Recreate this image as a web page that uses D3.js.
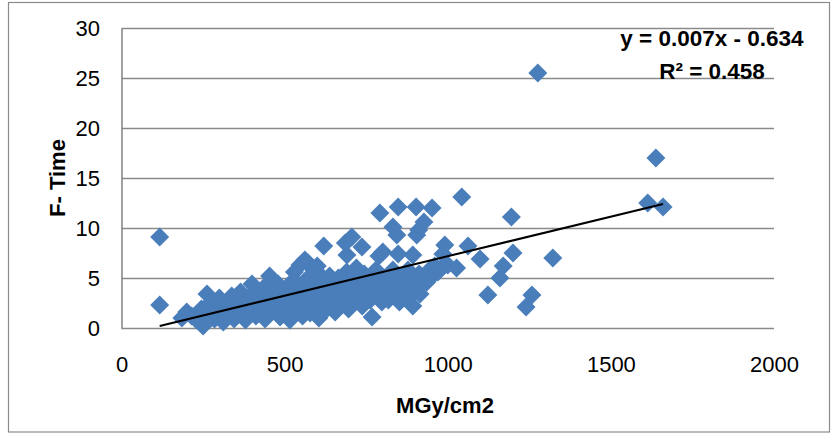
<!DOCTYPE html>
<html><head><meta charset="utf-8">
<script src="https://cdn.jsdelivr.net/npm/d3@7"></script>
<style>body{margin:0;background:#fff} svg{display:block}</style>
</head><body><svg id="c" width="838" height="434"></svg>
<script>
// ---- data ----
const xValues = [
  // band A
  185,200,215,230,245,250,262,268,275,285,292,300,305,312,320,330,338,345,350,358,365,372,380,388,395,400,405,
  // band B
  412,420,428,435,440,448,454,460,466,472,480,486,492,498,505,510,516,522,528,534,540,547,550,555,560,562,566,572,578,584,590,596,600,605,610,616,620,626,632,638,644,648,572,600,620,590,530,
  // band C
  655,660,665,672,678,684,690,696,702,708,714,720,726,732,738,744,750,756,762,768,774,780,786,792,798,
  // band D
  805,812,818,825,832,838,845,852,858,865,872,878,885,893,898,905,912,920,928,936,944,952,960,970,980,915,
  // upper / isolated
  117,117,1276,1638,1613,1660,1322,1043,1195,792,848,903,952,927,832,844,905,911,706,686,737,691,789,801,848,893,991,985,1062,1099,1200,1170,1160,1000,1027,1123,1258,1240
];
const yValues = [
  1.0,1.6,1.2,0.8,1.9,0.2,3.4,1.4,2.6,0.9,2.0,3.0,1.4,0.6,2.4,1.8,3.2,0.9,2.7,1.5,3.6,2.2,0.8,3.0,1.8,4.4,2.6,
  1.2,3.4,2.0,4.0,0.9,2.8,5.2,1.6,3.6,2.3,4.4,1.1,3.0,1.9,4.0,2.6,0.8,3.4,4.8,1.6,2.9,6.3,4.2,1.2,3.6,6.8,2.4,5.0,1.5,3.0,4.4,2.0,5.6,1.0,3.6,2.6,4.8,1.8,3.2,5.2,2.4,4.0,6.5,6.2,8.2,5.8,5.6,
  1.6,3.4,5.0,2.4,4.2,3.0,5.6,1.9,3.8,4.8,2.8,6.0,3.4,4.4,2.2,5.4,3.6,4.8,2.8,1.1,4.0,5.8,3.2,4.6,2.6,
  3.6,5.0,2.8,4.2,5.8,3.4,4.6,2.6,5.2,3.8,4.4,5.8,3.2,2.2,4.8,4.0,5.4,4.4,5.0,4.6,5.8,5.2,6.2,5.6,6.0,3.4,
  9.1,2.3,25.5,17.0,12.5,12.1,7.0,13.1,11.1,11.5,12.1,12.1,12.0,10.6,10.1,9.3,9.3,9.8,9.1,8.5,8.1,7.3,7.2,7.6,7.4,7.3,8.3,7.4,8.2,6.9,7.5,6.2,5.0,6.3,6.0,3.3,3.3,2.1
];
const xTicks = [0, 500, 1000, 1500, 2000];
const yTicks = [0, 5, 10, 15, 20, 25, 30];
const trendSlope = 0.0079;
const trendIntercept = -0.72;
const equationLabel = "y = 0.007x - 0.634";
const r2Label = "R\u00B2 = 0.458";
const xTitle = "MGy/cm2";
const yTitle = "F- Time";

// ---- drawing ----
const svg = d3.select("#c");
const L = 121.5, R = 774, T = 28, B = 328;
const x = d3.scaleLinear().domain([0, 2000]).range([L, R]);
const y = d3.scaleLinear().domain([0, 30]).range([B, T]);
const font = "'Liberation Sans', Arial, sans-serif";
const grey = "#8a8a8a";

svg.append("rect").attr("x", 8.5).attr("y", 2.5).attr("width", 821).attr("height", 429.5)
  .attr("fill", "#fff").attr("stroke", grey).attr("stroke-width", 1.2);

// y axis with gridlines
const gy = svg.append("g").attr("transform", `translate(${L},0)`)
  .call(d3.axisLeft(y).tickValues(yTicks).tickSize(-(R - L)).tickSizeOuter(0).tickPadding(21.5));
gy.selectAll(".tick line").attr("stroke", grey).attr("stroke-width", 1.6);
gy.select(".domain").attr("stroke", grey).attr("stroke-width", 1.6);
gy.selectAll(".tick text").attr("font-family", font).attr("font-size", 22).attr("fill", "#000");

// x axis labels
const gx = svg.append("g").attr("transform", `translate(0,${B})`)
  .call(d3.axisBottom(x).tickValues(xTicks).tickSize(0).tickPadding(28).tickFormat(d3.format("d")));
gx.select(".domain").remove();
gx.selectAll(".tick text").attr("font-family", font).attr("font-size", 22).attr("fill", "#000");

// points
const pts = xValues.map((v, i) => [v, yValues[i]]);
const sym = d3.symbol().type(d3.symbolSquare).size(180);
svg.append("g").selectAll("path").data(pts).join("path")
  .attr("d", sym)
  .attr("transform", d => `translate(${x(d[0])},${y(d[1])}) rotate(45)`)
  .attr("fill", "#4A7EBB");

// trend line
const ext = d3.extent(xValues);
svg.append("path")
  .datum(ext.map(v => [v, trendSlope * v + trendIntercept]))
  .attr("d", d3.line().x(d => x(d[0])).y(d => y(d[1])))
  .attr("stroke", "#000").attr("stroke-width", 2).attr("fill", "none");

// equation labels
svg.append("text").attr("x", 712).attr("y", 45.5).attr("text-anchor", "middle")
  .attr("font-family", font).attr("font-weight", "bold").attr("font-size", 22.5).text(equationLabel);
svg.append("text").attr("x", 712).attr("y", 79).attr("text-anchor", "middle")
  .attr("font-family", font).attr("font-weight", "bold").attr("font-size", 22.5).text(r2Label);

// axis titles
svg.append("text").attr("x", 445).attr("y", 413).attr("text-anchor", "middle")
  .attr("font-family", font).attr("font-weight", "bold").attr("font-size", 22).text(xTitle);
svg.append("text").attr("transform", "translate(65,178) rotate(-90)").attr("text-anchor", "middle")
  .attr("font-family", font).attr("font-weight", "bold").attr("font-size", 22).text(yTitle);
</script></body></html>
